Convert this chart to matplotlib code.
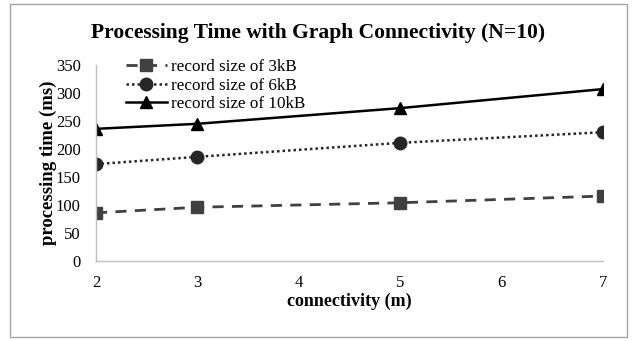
import matplotlib
matplotlib.use("Agg")
import matplotlib.pyplot as plt
from matplotlib.patches import Rectangle

# connectivity values and measured processing times (ms)
connectivity = [2, 3, 5, 7]
time_3kb = [86, 96, 104, 116]
time_6kb = [173, 186, 211, 230]
time_10kb = [236, 245, 273, 307]

plt.rcParams['font.family'] = ['Liberation Serif', 'DejaVu Serif']

fig = plt.figure(figsize=(6.36, 3.41), dpi=100)
ax = fig.add_axes([96 / 636, 80 / 341, 507 / 636, 196 / 341])

# light grey frame round the whole chart
fig.patches.append(Rectangle((10 / 636, 4 / 341), 617 / 636, 333 / 341,
                             transform=fig.transFigure, fill=False,
                             edgecolor='#a6a6a6', linewidth=1))

ax.plot(connectivity, time_3kb, color='#404040', linestyle=(0, (4, 3)),
        linewidth=2, marker='s', markersize=8, label='record size of 3kB')
ax.plot(connectivity, time_6kb, color='#262626', linestyle=(0, (1, 1.2)),
        linewidth=1.8, marker='o', markersize=9, label='record size of 6kB')
ax.plot(connectivity, time_10kb, color='black', linestyle='-',
        linewidth=1.8, marker='^', markersize=8, label='record size of 10kB')

ax.set_xlim(2, 7)
ax.set_ylim(0, 350)
ax.set_xticks(range(2, 8))
ax.set_yticks(range(0, 351, 50))
ax.tick_params(axis='y', length=0, labelsize=12, pad=11)
ax.tick_params(axis='x', length=0, labelsize=12, pad=10)

for side in ['top', 'right']:
    ax.spines[side].set_visible(False)
for side in ['left', 'bottom']:
    ax.spines[side].set_color('#bfbfbf')
ax.spines['left'].set_linewidth(1)
ax.spines['bottom'].set_linewidth(1)

ax.set_xlabel('connectivity (m)', fontsize=13, fontweight='bold', labelpad=1)
ax.set_ylabel('processing time (ms)', fontsize=13.5, fontweight='bold', labelpad=-1)
fig.text(0.5, 0.902, 'Processing Time with Graph Connectivity (N=10)',
         ha='center', va='center', fontsize=15.5, fontweight='bold')

ax.legend(loc='upper left', bbox_to_anchor=(0.045, 1.065), frameon=False,
          fontsize=12.3, handlelength=2.4, handletextpad=0.25,
          labelspacing=0.15, borderaxespad=0)

fig.savefig('out.png', dpi=100)
